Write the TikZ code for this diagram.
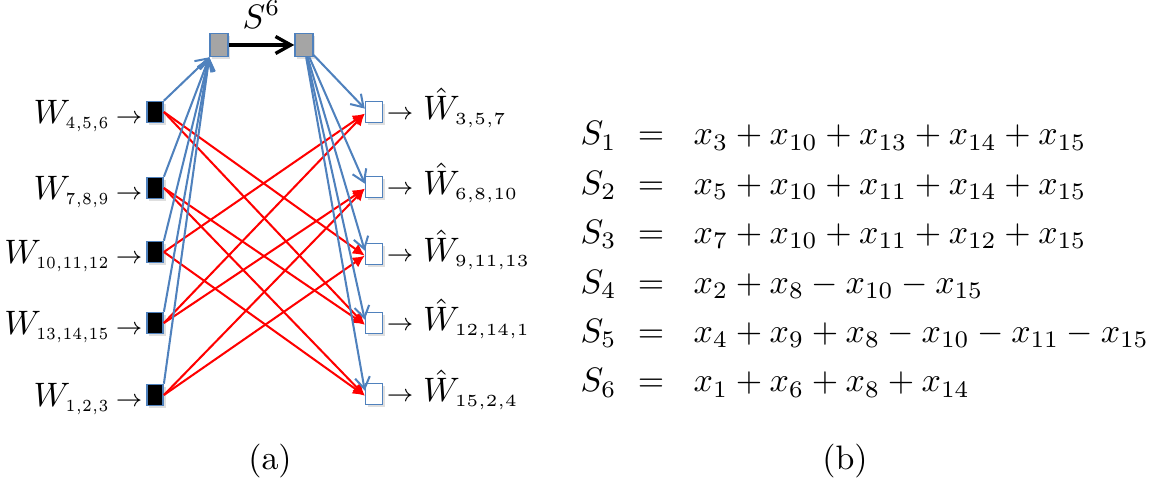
\documentclass[tikz,border=0pt]{standalone}
\usepackage{amsmath}
\usepackage{graphicx}
\usepackage{tikz}
\usetikzlibrary{arrows.meta,shadows}
\definecolor{blueln}{HTML}{4F81BD}
\definecolor{grayfill}{HTML}{A5A5A5}
\tikzset{
  sq/.style={draw=blueln,line width=0.45pt,inner sep=0pt,minimum width=4.8pt,minimum height=6.2pt,
    drop shadow={opacity=0.25,shadow xshift=0.7pt,shadow yshift=-0.7pt}},
  inbox/.style={sq,fill=black},
  outbox/.style={sq,fill=white,minimum width=5pt},
  sumbox/.style={sq,fill=grayfill,minimum width=5.3pt,minimum height=6.8pt},
  redar/.style={-{Latex[length=3.5pt,width=3.5pt]},red,line width=0.6pt},
  bluar/.style={-{Straight Barb[length=3.4pt,width=4.4pt]},blueln,line width=0.6pt},
  lab/.style={inner sep=0.8pt}
}
\newcommand{\sarr}{{\scriptstyle\rightarrow}}
\newcommand{\isub}[1]{\scalebox{0.85}[1]{$\scriptscriptstyle #1$}}

\begin{document}
\begin{tikzpicture}[x=0.295pt,y=-0.295pt]
\useasboundingbox (0,0) rectangle (1151,481);
% (a)
\node[sumbox] (s1) at (219,45) {};
\node[sumbox] (s2) at (304,45) {};
\foreach \y [count=\i] in {112,188,252,323,395}
  \node[inbox] (l\i) at (155,\y) {};
\foreach \y [count=\i] in {112,187,254,323,394}
  \node[outbox] (r\i) at (374,\y) {};
\foreach \t [count=\i] in {{4,5,6},{7,8,9},{10,11,12},{13,14,15},{1,2,3}}
  \node[lab,anchor=base east] (wl\i) at (l\i.south west) {$W_{\isub{\t}}\,\sarr$};
\foreach \t [count=\i] in {{3,5,7},{6,8,10},{9,11,13},{12,14,1},{15,2,4}}
  \node[lab,anchor=base west] (wr\i) at ([yshift=1pt]r\i.south east) {$\sarr\;\hat{W}_{\scriptscriptstyle\t}$};
\foreach \a/\b in {1/3,1/4,2/4,2/5,3/1,3/5,4/1,4/2,5/2,5/3}
  \draw[redar] (l\a.east) -- ([yshift=-0.5pt]r\b.west);
\foreach \i in {1,...,5} {
  \draw[bluar] (l\i.north east) -- (s1.south west);
  \draw[bluar] (s2) -- ([yshift=1pt]r\i.west);
}
\draw[-{Straight Barb[length=4.5pt,width=5pt]},line width=1pt] (s1) -- (s2)
  node[midway,above=4.5pt,inner sep=0pt] (slab) {$S^6$};
\node[anchor=base] (capa) at (270,470) {(a)};
% (b)
\foreach \r [count=\i] in {x_3+x_{10}+x_{13}+x_{14}+x_{15},
    x_5+x_{10}+x_{11}+x_{14}+x_{15},
    x_7+x_{10}+x_{11}+x_{12}+x_{15},
    x_2+x_8-x_{10}-x_{15},
    x_4+x_9+x_8-x_{10}-x_{11}-x_{15},
    x_1+x_6+x_8+x_{14}} {
  \node[inner sep=0pt,anchor=base west] (sl\i) at (580,{145+49.4*(\i-1)}) {$S_{\i}$};
  \node[inner sep=0pt,anchor=base] (eq\i) at (651,{145+49.4*(\i-1)}) {$=$};
  \node[inner sep=0pt,anchor=base west] (sr\i) at (693,{145+49.4*(\i-1)}) {$\r$};
}
\node[anchor=base] (capb) at (845,470) {(b)};
\end{tikzpicture}
\end{document}
